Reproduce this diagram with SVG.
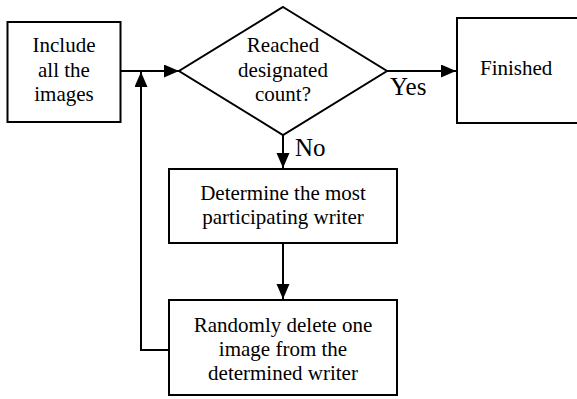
<svg xmlns="http://www.w3.org/2000/svg" width="577" height="399" viewBox="0 0 577 399">
<style>
.box{fill:#fff;stroke:#000;stroke-width:2}
.t{font-family:"Liberation Serif","Times New Roman",serif;font-size:21px;fill:#000;text-anchor:middle}
.lbl{font-family:"Liberation Serif","Times New Roman",serif;font-size:25px;fill:#000}
.c{fill:none;stroke:#000;stroke-width:2}
</style>
<defs>
<marker id="arr" markerUnits="userSpaceOnUse" markerWidth="16" markerHeight="14" refX="15" refY="6.5" orient="auto">
<path d="M0,0 L15,6.5 L0,13 Z" fill="#000"/>
</marker>
</defs>
<rect width="577" height="399" fill="#fff"/>
<g id="connectors">
<line class="c" x1="121" y1="71" x2="179" y2="71" marker-end="url(#arr)"/>
<polyline class="c" points="169,350 141,350 141,72" marker-end="url(#arr)"/>
<line class="c" x1="387" y1="71" x2="456" y2="71" marker-end="url(#arr)"/>
<line class="c" x1="283" y1="135" x2="283" y2="168" marker-end="url(#arr)"/>
<line class="c" x1="283" y1="243" x2="283" y2="299" marker-end="url(#arr)"/>
<text class="lbl" x="390" y="95">Yes</text>
<text class="lbl" x="295" y="156">No</text>
</g>
<g id="include">
<rect class="box" x="7.5" y="22" width="113" height="100"/>
<text class="t" x="64" y="52">Include</text>
<text class="t" x="64" y="77">all the</text>
<text class="t" x="64" y="101">images</text>
</g>
<g id="decision">
<polygon class="box" points="283,7 387,71 283,135 179,71"/>
<text class="t" x="283" y="52">Reached</text>
<text class="t" x="283" y="77">designated</text>
<text class="t" x="283" y="101">count?</text>
</g>
<g id="finished">
<rect class="box" x="457" y="18" width="140" height="105"/>
<text class="t" x="480" y="75" style="text-anchor:start">Finished</text>
</g>
<g id="determine">
<rect class="box" x="169" y="169" width="228" height="74"/>
<text class="t" x="283" y="200">Determine the most</text>
<text class="t" x="283" y="224">participating writer</text>
</g>
<g id="delete">
<rect class="box" x="169" y="300" width="228" height="95"/>
<text class="t" x="283" y="332">Randomly delete one</text>
<text class="t" x="283" y="356">image from the</text>
<text class="t" x="283" y="380">determined writer</text>
</g>
</svg>
